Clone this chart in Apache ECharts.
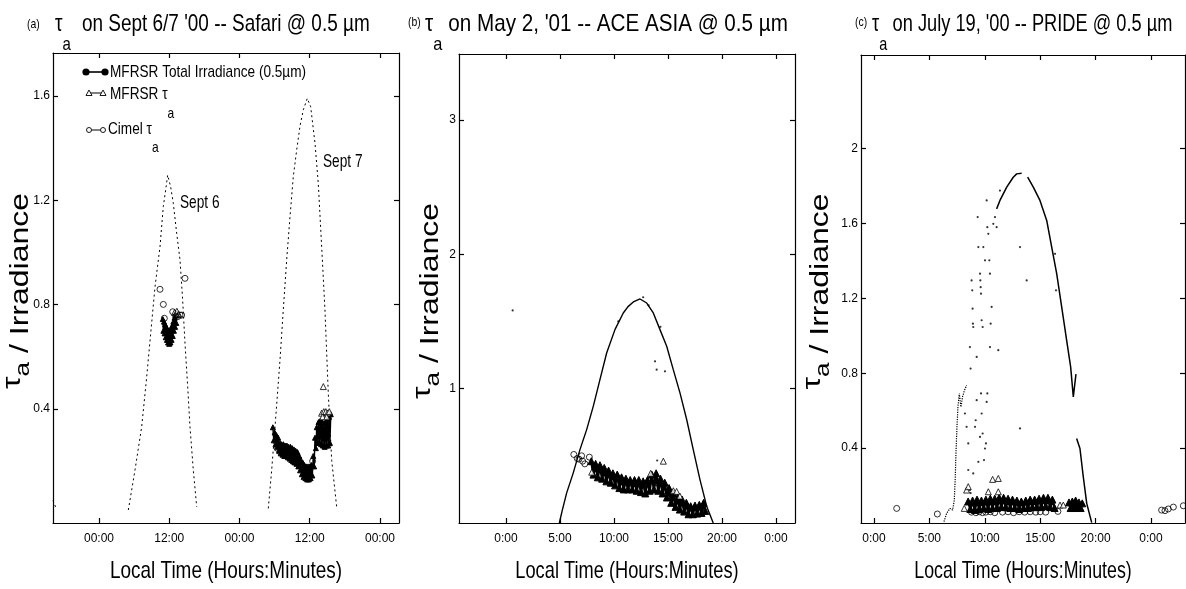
<!DOCTYPE html>
<html><head><meta charset="utf-8">
<script src="https://cdn.jsdelivr.net/npm/echarts@6/dist/echarts.min.js"></script>
<style>html,body{margin:0;padding:0;background:#fff}#c{width:1186px;height:589px}</style>
</head><body><div id="c"></div><script>
// ---------- tick definitions ----------
const xTicksA = [0, 12, 24, 36, 48];
const xLabelsA = ['00:00', '12:00', '00:00', '12:00', '00:00'];
const yTicksA = [0.4, 0.8, 1.2, 1.6];
const xTicksBC = [0, 5, 10, 15, 20, 25];
const xLabelsBC = ['0:00', '5:00', '10:00', '15:00', '20:00', '0:00'];
const yTicksB = [1, 2, 3];
const yTicksC = [0.4, 0.8, 1.2, 1.6, 2];

// ---------- panel (a): Safari, hours from Sept 6 00:00 ----------
const irrA0 = [[-7.86,0.05],[-7.6,0.035],[-7.35,0.02]];
const irrA6 = [[5.01,0.013],[6.15,0.166],[7.29,0.332],[8.15,0.524],[8.83,0.69],[9.57,0.869],[10.42,1.022],[10.98,1.176],[11.39,1.24],[11.73,1.297],[12.24,1.252],[12.69,1.189],[13.27,1.074],[13.84,0.971],[14.29,0.818],[14.69,0.652],[15.15,0.486],[15.54,0.332],[16.11,0.166],[16.69,0.025]];
const irrA7 = [[28.92,0.019],[29.5,0.166],[30.07,0.332],[30.92,0.588],[31.48,0.78],[32.06,0.971],[32.63,1.137],[33.19,1.291],[33.77,1.393],[34.33,1.483],[34.9,1.547],[35.58,1.591],[36.16,1.559],[36.9,1.419],[37.46,1.265],[38.04,1.022],[38.6,0.78],[39.17,0.46],[39.75,0.204],[40.6,0.025]];
const tauA6 = [[10.9,0.745],[11.0,0.700],[11.1,0.735],[11.2,0.690],[11.3,0.725],[11.4,0.675],[11.5,0.715],[11.6,0.665],[11.7,0.705],[11.8,0.655],[11.9,0.700],[12.0,0.650],[12.1,0.700],[12.2,0.655],[12.3,0.705],[12.4,0.665],[12.5,0.720],[12.6,0.680],[12.7,0.735],[12.8,0.700],[12.9,0.750],[13.0,0.715],[13.1,0.760],[13.2,0.730],[13.3,0.765]];
const tauA7 = [[29.7,0.33],[29.85,0.28],[30.0,0.31],[30.15,0.265],[30.3,0.30],[30.45,0.255],[30.6,0.29],[30.75,0.24],[30.9,0.27],[31.05,0.23],[31.2,0.265],[31.35,0.225],[31.5,0.265],[31.65,0.22],[31.8,0.26],[31.95,0.22],[32.1,0.26],[32.25,0.215],[32.4,0.255],[32.55,0.21],[32.7,0.255],[32.85,0.205],[33.0,0.25],[33.15,0.20],[33.3,0.245],[33.45,0.195],[33.6,0.24],[33.75,0.19],[33.9,0.235],[34.05,0.18],[34.2,0.22],[34.35,0.165],[34.5,0.205],[34.65,0.15],[34.8,0.195],[34.95,0.14],[35.1,0.185],[35.25,0.135],[35.4,0.18],[35.55,0.13],[35.7,0.18],[35.85,0.13],[36.0,0.18],[36.15,0.135],[36.3,0.185],[36.45,0.145],[36.6,0.22],[36.75,0.18],[36.9,0.29],[37.05,0.25],[37.2,0.33],[37.35,0.27],[37.5,0.35],[37.65,0.27],[37.8,0.355],[37.95,0.265],[38.1,0.35],[38.25,0.26],[38.4,0.345],[38.55,0.255],[38.7,0.35],[38.85,0.26],[39.0,0.36],[39.15,0.26],[39.3,0.37],[39.45,0.27],[39.6,0.38]];
const tauOpenA = [[12.9,0.77],[13.3,0.775],[13.6,0.765],[38.32,0.486],[38.03,0.384],[38.4,0.39],[38.75,0.39],[39.05,0.385],[39.35,0.39],[38.2,0.37],[38.9,0.37]];
const cimelA = [[10.42,0.859],[10.99,0.801],[11.16,0.748],[12.59,0.773],[13.1,0.754],[13.44,0.754],[13.84,0.76],[14.12,0.76],[14.69,0.901],[30.4,0.25],[30.92,0.236],[31.5,0.228],[33.19,0.198],[36.5,0.2]];

// ---------- panel (b): ACE ASIA, hours local ----------
const irrB = [[4.94,0.0],[5.2,0.09],[5.62,0.224],[6.23,0.373],[6.85,0.546],[7.47,0.695],[8.08,0.868],[8.7,1.067],[9.32,1.265],[10.09,1.439],[10.86,1.563],[11.3,1.61],[11.79,1.645],[12.41,1.667],[13.03,1.637],[13.64,1.563],[14.26,1.439],[14.88,1.315],[15.49,1.141],[16.11,0.968],[16.73,0.77],[17.34,0.546],[17.96,0.323],[18.58,0.125],[19.19,0.0]];
const irrDotsB = [[0.62,1.582],[13.8,1.203],[13.95,1.141],[14.72,1.129],[14.0,0.465],[10.4,1.5],[12.7,1.68],[13.2,1.62],[14.3,1.46]];
const tauB = [[7.9,0.46],[8.1,0.36],[8.3,0.44],[8.5,0.34],[8.7,0.43],[8.9,0.33],[9.1,0.41],[9.3,0.31],[9.5,0.39],[9.7,0.30],[9.9,0.37],[10.1,0.28],[10.3,0.36],[10.5,0.26],[10.7,0.34],[10.9,0.25],[11.1,0.33],[11.3,0.25],[11.5,0.32],[11.7,0.25],[11.9,0.32],[12.1,0.24],[12.3,0.32],[12.5,0.23],[12.7,0.31],[12.9,0.22],[13.1,0.32],[13.3,0.24],[13.5,0.36],[13.7,0.25],[13.9,0.37],[14.1,0.24],[14.3,0.33],[14.5,0.22],[14.7,0.30],[14.9,0.19],[15.1,0.26],[15.3,0.15],[15.5,0.22],[15.7,0.12],[15.9,0.19],[16.1,0.10],[16.3,0.175],[16.5,0.085],[16.7,0.15],[16.9,0.065],[17.1,0.125],[17.3,0.065],[17.5,0.13],[17.7,0.07],[17.9,0.135],[18.1,0.075],[18.3,0.15],[18.45,0.09]];
const tauOpenB = [[7.94,0.378],[14.57,0.46],[15.5,0.24],[15.8,0.235],[16.1,0.2],[13.4,0.37]];
const cimelB = [[6.28,0.51],[6.6,0.48],[6.76,0.475],[7.0,0.50],[7.1,0.46],[7.3,0.44],[7.72,0.49],[13.9,0.3],[14.3,0.26]];

// ---------- panel (c): PRIDE, hours local ----------
const irrC1 = [[6.32,0.007],[6.56,0.052],[6.86,0.078],[7.1,0.069],[7.25,0.123],[7.34,0.247],[7.4,0.372],[7.49,0.514],[7.58,0.62],[7.7,0.692],[7.85,0.62],[8.0,0.676],[8.18,0.71],[8.36,0.736]];
const irrC2 = [[11.07,1.678],[11.37,1.723],[11.98,1.794],[12.57,1.847],[12.88,1.865],[13.33,1.868]];
const irrC3 = [[13.87,1.847],[14.38,1.794],[14.98,1.723],[15.59,1.616],[16.04,1.474],[16.49,1.332],[16.94,1.154],[17.39,0.976],[17.75,0.834],[17.99,0.674],[18.23,0.795]];
const irrC4 = [[18.29,0.451],[18.59,0.398],[18.89,0.247],[19.2,0.105],[19.65,0.002]];
const irrDotsC = [[8.81,1.296],[8.87,1.243],[8.9,1.145],[8.93,1.065],[8.96,1.047],[8.66,0.94],[8.72,0.825],[9.36,1.634],[9.42,1.474],[9.57,1.332],[9.6,1.296],[9.63,1.26],[9.66,1.225],[9.72,1.083],[9.81,1.047],[9.27,0.887],[9.87,1.474],[10.02,1.403],[10.17,1.723],[10.23,1.58],[10.32,1.545],[10.41,1.403],[10.47,1.332],[10.62,1.154],[10.53,1.065],[10.47,0.94],[10.77,1.598],[10.92,1.634],[11.07,1.58],[11.22,0.923],[11.37,1.776],[13.18,1.474],[13.78,1.296],[13.18,0.505],[16.34,1.438],[16.43,1.243],[8.36,0.514],[8.51,0.283],[8.66,0.176],[8.72,0.16],[8.96,0.265],[9.12,0.514],[9.18,0.549],[9.27,0.656],[9.42,0.327],[9.57,0.46],[9.66,0.692],[9.81,0.478],[9.93,0.336],[10.02,0.398],[10.11,0.425],[10.17,0.647],[10.23,0.692],[8.21,0.585],[8.51,0.425],[9.72,0.585]];
const tauC1 = [[8.5,0.115],[8.7,0.075],[8.9,0.12],[9.1,0.07],[9.3,0.125],[9.5,0.075],[9.7,0.12],[9.9,0.08],[10.1,0.125],[10.3,0.075],[10.5,0.13],[10.7,0.08],[10.9,0.13],[11.1,0.08],[11.3,0.135],[11.5,0.085],[11.7,0.135],[11.9,0.085],[12.1,0.13],[12.3,0.08],[12.5,0.125],[12.7,0.08],[12.9,0.12],[13.1,0.075],[13.3,0.115],[13.5,0.08],[13.7,0.12],[13.9,0.08],[14.1,0.125],[14.3,0.085],[14.5,0.125],[14.7,0.085],[14.9,0.13],[15.1,0.085],[15.3,0.135],[15.5,0.09],[15.7,0.135],[15.9,0.085],[16.1,0.125],[16.3,0.08]];
const tauC2 = [[17.6,0.11],[17.75,0.08],[17.9,0.115],[18.05,0.08],[18.2,0.12],[18.35,0.085],[18.5,0.11],[18.65,0.08],[18.8,0.105]];
const tauOpenC = [[8.15,0.078],[8.36,0.176],[8.51,0.194],[10.32,0.167],[10.71,0.233],[11.22,0.238],[11.22,0.167],[16.79,0.096],[17.09,0.096]];
const cimelC = [[2.05,0.078],[5.72,0.048],[8.8,0.058],[9.2,0.055],[9.5,0.06],[9.8,0.055],[10.1,0.058],[10.5,0.06],[10.9,0.055],[11.6,0.058],[12.1,0.06],[12.6,0.055],[13.1,0.06],[13.6,0.058],[14.1,0.06],[14.6,0.058],[15.0,0.06],[15.5,0.058],[16.6,0.062],[25.96,0.069],[26.26,0.066],[26.56,0.075],[27.02,0.085],[27.92,0.092]];

// ---------- texts ----------
const titlesMain = ["on Sept 6/7 '00 -- Safari @ 0.5 µm", "on May 2, '01 -- ACE ASIA @ 0.5 µm", "on July 19, '00 -- PRIDE @ 0.5 µm"];
const panelTags = ['(a)', '(b)', '(c)'];
const xName = 'Local Time (Hours:Minutes)';
const legendNames = ['MFRSR Total Irradiance (0.5µm)', 'MFRSR τ', 'Cimel τ'];

// ---------- styling / layout ----------
const FF = "'Liberation Sans',Arial,sans-serif";
const panels = [
  {grid:{left:53,top:53,width:346,height:470}, x:[-7.86,51.25], y:[-0.037,1.765], xt:xTicksA, xl:xLabelsA, yt:yTicksA},
  {grid:{left:459,top:54,width:336,height:469}, x:[-4.35,26.76], y:[0,3.49], xt:xTicksBC, xl:xLabelsBC, yt:yTicksB},
  {grid:{left:861,top:55,width:324,height:468}, x:[-1.17,28.07], y:[0,2.5], xt:xTicksBC, xl:xLabelsBC, yt:yTicksC}
];
const line = {color:'#000', width:1.2};
function lab(list, labels) { return v => { const i = list.findIndex(t => Math.abs(t - v) < 1e-6); return i < 0 ? '' : labels[i]; }; }
const xAxis = [], yAxis = [];
panels.forEach((p, i) => {
  xAxis.push({gridIndex:i, type:'value', position:'bottom', min:p.x[0], max:p.x[1],
    axisLine:{show:true, onZero:false, lineStyle:line},
    axisTick:{show:true, inside:true, length:5, customValues:p.xt, lineStyle:line},
    axisLabel:{show:true, customValues:p.xt, formatter:lab(p.xt, p.xl), color:'#000', fontFamily:FF, fontSize:12, margin:10},
    splitLine:{show:false}});
  xAxis.push({gridIndex:i, type:'value', position:'top', min:p.x[0], max:p.x[1],
    axisLine:{show:true, onZero:false, lineStyle:line},
    axisTick:{show:true, inside:true, length:5, customValues:p.xt, lineStyle:line},
    axisLabel:{show:false}, splitLine:{show:false}});
  yAxis.push({gridIndex:i, type:'value', position:'left', min:p.y[0], max:p.y[1],
    axisLine:{show:true, onZero:false, lineStyle:line},
    axisTick:{show:true, inside:true, length:5, customValues:p.yt, lineStyle:line},
    axisLabel:{show:true, customValues:p.yt, color:'#000', fontFamily:FF, fontSize:12, margin:3},
    splitLine:{show:false}});
  yAxis.push({gridIndex:i, type:'value', position:'right', min:p.y[0], max:p.y[1],
    axisLine:{show:true, onZero:false, lineStyle:line},
    axisTick:{show:true, inside:true, length:5, customValues:p.yt, lineStyle:line},
    axisLabel:{show:false}, splitLine:{show:false}});
});

function irr(data, i, dash, w) {
  return {type:'line', xAxisIndex:2*i, yAxisIndex:2*i, data:data, showSymbol:false, silent:true,
    lineStyle:{color:'#000', width:w || 1.2, type:dash || 'solid'}, z:2};
}
function dots(data, i) {
  return {type:'scatter', xAxisIndex:2*i, yAxisIndex:2*i, data:data, symbol:'circle', symbolSize:2.2,
    itemStyle:{color:'#000'}, silent:true, z:2};
}
function tau(data, i, lw, sz) {
  return {type:'line', xAxisIndex:2*i, yAxisIndex:2*i, data:data, symbol:'triangle', symbolSize:sz || 5, showAllSymbol:true,
    lineStyle:{color:'#000', width:lw || 1.4}, itemStyle:{color:'#000', borderColor:'#000', borderWidth:1}, silent:true, z:3};
}
function tauOpen(data, i) {
  return {type:'scatter', xAxisIndex:2*i, yAxisIndex:2*i, data:data, symbol:'triangle', symbolSize:6,
    itemStyle:{color:'#fff', borderColor:'#000', borderWidth:1}, silent:true, z:4};
}
function cimel(data, i) {
  return {type:'scatter', xAxisIndex:2*i, yAxisIndex:2*i, data:data, symbol:'circle', symbolSize:6,
    itemStyle:{color:'rgba(255,255,255,0)', borderColor:'#000', borderWidth:1}, silent:true, z:5};
}
const series = [
  irr(irrA0, 0, [2,3], 1), irr(irrA6, 0, [2,3], 1), irr(irrA7, 0, [2,3], 1),
  tau(tauA6, 0), tau(tauA7, 0), tauOpen(tauOpenA, 0), cimel(cimelA, 0),
  irr(irrB, 1, 'solid', 1.4), dots(irrDotsB, 1), tau(tauB, 1, 2.6, 7), tauOpen(tauOpenB, 1), cimel(cimelB, 1),
  irr(irrC1, 2, 'dotted', 1.2), irr(irrC2, 2, 'solid', 1.5), irr(irrC3, 2, 'solid', 1.5), irr(irrC4, 2, 'solid', 1.5),
  dots(irrDotsC, 2), tau(tauC1, 2, 2.6, 7), tau(tauC2, 2, 2.6, 7), tauOpen(tauOpenC, 2), cimel(cimelC, 2)
];

// ---------- text graphics (condensed via scaleX, as in the squeezed original) ----------
function titleEl(x, sx, pad, main) {
  return {type:'text', silent:true, x:x, y:12, scaleX:sx, style:{text:'{t|τ}{s|a}{m|' + main + '}', align:'left', verticalAlign:'top',
    rich:{
      t:{fontFamily:FF, fontSize:24, lineHeight:24, verticalAlign:'top', fill:'#000'},
      s:{fontFamily:FF, fontSize:19, lineHeight:19, padding:[23,0,0,0], verticalAlign:'top', fill:'#000'},
      m:{fontFamily:FF, fontSize:24, lineHeight:24, padding:[0,0,0,pad], verticalAlign:'top', fill:'#000'}}}};
}
function yNameEl(x, y) {
  return {type:'text', silent:true, x:x, y:y, rotation:Math.PI/2, scaleY:0.8,
    style:{text:'{t|τ}{s|a}{m| / Irradiance}', align:'center', verticalAlign:'middle',
    rich:{
      t:{fontFamily:FF, fontSize:32, lineHeight:32, padding:[0,0,9,0], verticalAlign:'bottom', fill:'#000'},
      s:{fontFamily:FF, fontSize:26, lineHeight:32, verticalAlign:'bottom', fill:'#000'},
      m:{fontFamily:FF, fontSize:32, lineHeight:32, verticalAlign:'bottom', fill:'#000'}}}};
}
function txt(x, y, s, size, sx, align) {
  return {type:'text', silent:true, x:x, y:y, scaleX:sx, style:{text:s, fill:'#000', font:size + 'px ' + FF, align:align || 'left', verticalAlign:'middle'}};
}
const legRich = {
  m:{fontFamily:FF, fontSize:17, lineHeight:17, verticalAlign:'top', fill:'#000'},
  s:{fontFamily:FF, fontSize:15, lineHeight:15, padding:[20,0,0,0], verticalAlign:'top', fill:'#000'}
};
const graphic = [
  txt(27, 24, panelTags[0], 13, 0.8), txt(408, 22, panelTags[1], 13, 0.8), txt(855, 22, panelTags[2], 13, 0.8),
  titleEl(55, 0.79, 14, titlesMain[0]), titleEl(425, 0.86, 7, titlesMain[1]), titleEl(872, 0.76, 7, titlesMain[2]),
  txt(226, 571, xName, 24, 0.79, 'center'), txt(627, 571, xName, 24, 0.76, 'center'), txt(1023, 571, xName, 24, 0.74, 'center'),
  yNameEl(20.5, 291), yNameEl(430.5, 301), yNameEl(820.5, 291.5),
  txt(180, 203, 'Sept 6', 19, 0.72), txt(323, 162, 'Sept 7', 19, 0.72),
  // legend row 1
  {type:'line', silent:true, shape:{x1:86, y1:72, x2:105, y2:72}, style:{stroke:'#000', lineWidth:1.6}},
  {type:'circle', silent:true, shape:{cx:86, cy:72, r:3.6}, style:{fill:'#000'}},
  {type:'circle', silent:true, shape:{cx:105, cy:72, r:3.6}, style:{fill:'#000'}},
  txt(110, 72, legendNames[0], 17, 0.8),
  // legend row 2
  {type:'line', silent:true, shape:{x1:89, y1:93, x2:103, y2:93}, style:{stroke:'#000', lineWidth:1}},
  {type:'polygon', silent:true, shape:{points:[[86,95.5],[92,95.5],[89,90]]}, style:{fill:'#fff', stroke:'#000', lineWidth:0.9}},
  {type:'polygon', silent:true, shape:{points:[[100,95.5],[106,95.5],[103,90]]}, style:{fill:'#fff', stroke:'#000', lineWidth:0.9}},
  {type:'text', silent:true, x:110, y:86, scaleX:0.8, style:{text:'{m|' + legendNames[1] + '}{s|a}', rich:legRich, align:'left', verticalAlign:'top'}},
  // legend row 3
  {type:'line', silent:true, shape:{x1:89, y1:130, x2:103, y2:130}, style:{stroke:'#000', lineWidth:1}},
  {type:'circle', silent:true, shape:{cx:89, cy:130, r:2.5}, style:{fill:'#fff', stroke:'#000', lineWidth:0.9}},
  {type:'circle', silent:true, shape:{cx:103, cy:130, r:2.5}, style:{fill:'#fff', stroke:'#000', lineWidth:0.9}},
  {type:'text', silent:true, x:108, y:120.5, scaleX:0.8, style:{text:'{m|' + legendNames[2] + '}{s|a}', rich:legRich, align:'left', verticalAlign:'top'}}
];

const chart = echarts.init(document.getElementById('c'), null, {renderer:'canvas'});
chart.setOption({
  animation:false, backgroundColor:'#fff',
  grid:panels.map(p => Object.assign({containLabel:false}, p.grid)),
  xAxis:xAxis, yAxis:yAxis, series:series, graphic:graphic
});
</script></body></html>
